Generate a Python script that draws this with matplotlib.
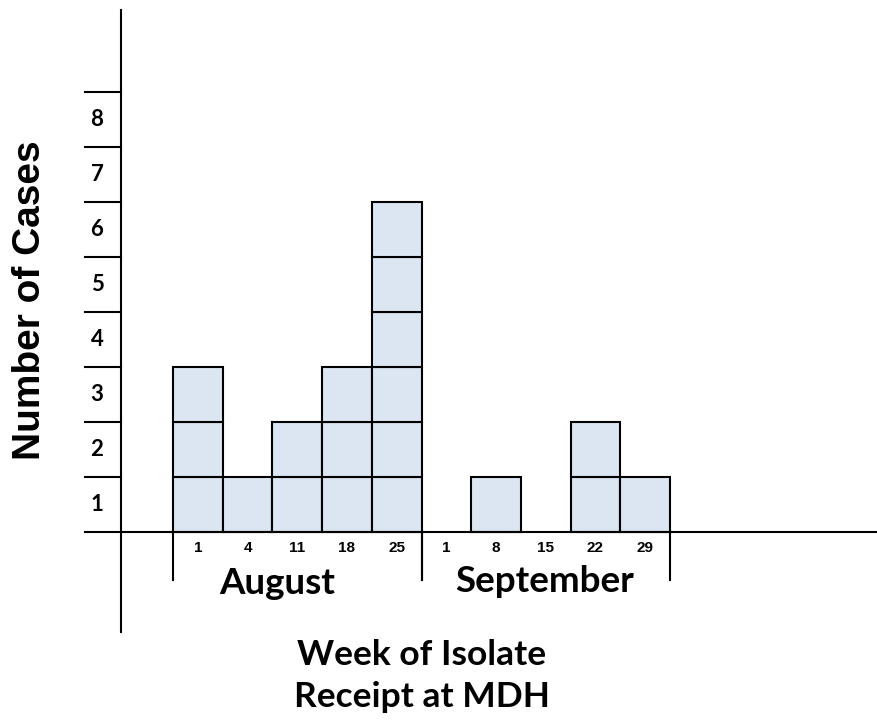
import numpy as np
import matplotlib.pyplot as plt

# weekly case counts (week-start day, month)
week_days = ["1", "4", "11", "18", "25", "1", "8", "15", "22", "29"]
cases = [3, 1, 2, 3, 6, 0, 1, 0, 2, 1]
months = ["August", "September"]
month_spans = [(0, 5), (5, 10)]
y_levels = [1, 2, 3, 4, 5, 6, 7, 8]

W, H = 877, 720
fig = plt.figure(figsize=(W / 100, H / 100), dpi=100)
ax = fig.add_axes([0, 0, 1, 1])

# pixel -> data scale
px_x = 49.7
px_y = 55.0
x0_px, y0_px = 173, 532
ax.set_xlim(-x0_px / px_x, (W - x0_px) / px_x)
ax.set_ylim(-(H - y0_px) / px_y, y0_px / px_y)
ax.axis("off")

def dx(px):
    return (px - x0_px) / px_x

def dy(px):
    return (y0_px - px) / px_y

box_color = "#dce6f2"
# stacked unit boxes
for level in range(max(cases)):
    heights = [1 if c > level else 0 for c in cases]
    idx = [i for i, h in enumerate(heights) if h]
    ax.bar(idx, [1] * len(idx), bottom=level, width=1, align="edge",
           color=box_color, edgecolor="black", linewidth=1.5, zorder=2)

# axes lines
ax.plot([dx(121), dx(121)], [dy(10), dy(632)], color="black", lw=1.5, zorder=3)
ax.plot([dx(85), dx(W)], [0, 0], color="black", lw=1.5, zorder=3)
for k in y_levels:
    ax.plot([dx(85), dx(121)], [k, k], color="black", lw=1.5, zorder=3)
    ax.text(dx(97), k - 0.5, str(k), ha="center", va="center",
            fontsize=16, fontweight="bold", family="Lato")

# week labels
for i, d in enumerate(week_days):
    ax.text(i + 0.5, dy(548), d, ha="center", va="center",
            fontsize=11, fontweight="bold", family="Liberation Sans")

# month separators and labels
for (a, b), m in zip(month_spans, months):
    ax.plot([a, a], [0, dy(580)], color="black", lw=1.5)
    ax.plot([b, b], [0, dy(580)], color="black", lw=1.5)
ax.text(dx(277), dy(584), months[0], ha="center", va="center",
        fontsize=26.5, fontweight="bold", family="Lato")
ax.text(dx(545), dy(582), months[1], ha="center", va="center",
        fontsize=26.5, fontweight="bold", family="Lato")

# axis titles
ax.text(dx(30), dy(300), "Number of Cases", rotation=90, ha="center", va="center",
        fontsize=28, fontweight="bold", family="Liberation Sans")
ax.text(dx(422), dy(655), "Week of Isolate", ha="center", va="center",
        fontsize=25.5, fontweight="bold", family="Lato")
ax.text(dx(422), dy(697), "Receipt at MDH", ha="center", va="center",
        fontsize=25.5, fontweight="bold", family="Lato")

fig.savefig("out.png", dpi=100)
